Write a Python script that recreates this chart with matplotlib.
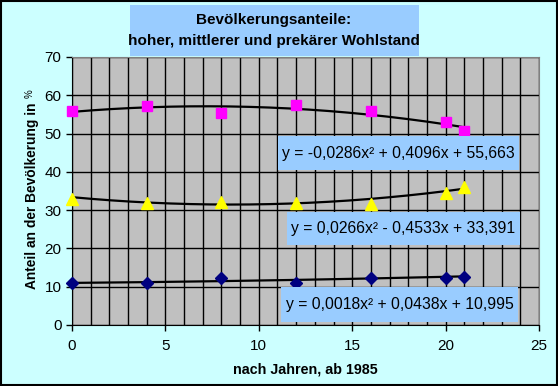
import numpy as np
import matplotlib
matplotlib.use("Agg")
import matplotlib.pyplot as plt
from matplotlib.patches import Rectangle

plt.rcParams['font.family'] = ['Liberation Sans', 'DejaVu Sans']

# ---- data ----
jahre = [0, 4, 8, 12, 16, 20, 21]
hoher = [55.9, 57.3, 55.4, 57.4, 55.9, 52.9, 50.6]
mittlerer = [32.8, 31.9, 32.2, 31.8, 31.6, 34.5, 36.1]
prekaer = [10.9, 10.9, 12.2, 10.9, 12.2, 12.4, 12.6]

# polynomial trend coefficients as printed in the chart (a, b, c)
coef_hoher = [-0.0286, 0.4096, 55.663]
coef_mittlerer = [0.0266, -0.4533, 33.391]
coef_prekaer = [0.0018, 0.0438, 10.995]

eq_hoher = "y = -0,0286x² + 0,4096x + 55,663"
eq_mittlerer = "y = 0,0266x² - 0,4533x + 33,391"
eq_prekaer = "y = 0,0018x² + 0,0438x + 10,995"

W, H = 558, 386
fig = plt.figure(figsize=(W / 100, H / 100), dpi=100)
fig.patch.set_facecolor('#CCFFFF')

def fx(px):
    return px / W

def fy(py):
    return 1 - py / H

# outer frame
fig.patches.append(Rectangle((fx(1), fy(385)), fx(556), 384 / H, transform=fig.transFigure,
                             fill=False, edgecolor='black', lw=1.5))

ax = fig.add_axes([fx(72), fy(325), fx(539 - 72), (325 - 57) / H])
ax.set_facecolor('#C0C0C0')
ax.set_xlim(0, 25)
ax.set_ylim(0, 70)
ax.set_xticks(range(0, 26, 5))
ax.set_yticks(range(0, 71, 10))
ax.set_xticks(range(0, 26), minor=True)
ax.grid(True, which='both', axis='x', color='black', lw=1)
ax.grid(True, which='major', axis='y', color='black', lw=1)
ax.tick_params(axis='x', which='minor', length=0)
ax.tick_params(axis='both', which='major', length=4, direction='out', labelsize=11, width=1)
ax.tick_params(axis='x', pad=6)
ax.set_axisbelow(True)
for s in ['top', 'right']:
    ax.spines[s].set_color('#808080')
for s in ['left', 'bottom']:
    ax.spines[s].set_color('black')

xs = np.linspace(jahre[0], jahre[-1], 200)
for coef in (coef_hoher, coef_mittlerer, coef_prekaer):
    ax.plot(xs, np.polyval(coef, xs), color='black', lw=1.6, zorder=3)

ax.plot(jahre, hoher, 's', color='#FF00FF', ms=7.5, ls='none', zorder=4, clip_on=False)
ax.plot(jahre, mittlerer, '^', color='#FFFF00', ms=9, ls='none', zorder=4, clip_on=False)
ax.plot(jahre, prekaer, 'D', color='#000080', ms=6, ls='none', zorder=4, clip_on=False)

# equation boxes
boxes = [(278, 136, 519, 170, eq_hoher), (287, 212, 520, 245, eq_mittlerer),
         (281, 287, 518, 322, eq_prekaer)]
for x0, y0, x1, y1, txt in boxes:
    fig.patches.append(Rectangle((fx(x0), fy(y1)), fx(x1 - x0), (y1 - y0) / H,
                                 transform=fig.transFigure, facecolor='#99CCFF',
                                 edgecolor='none', zorder=5))
    fig.text(fx((x0 + x1) / 2), fy((y0 + y1) / 2), txt, ha='center', va='center',
             fontsize=11.3, zorder=6)

# title box
fig.patches.append(Rectangle((fx(130), fy(56)), fx(289), 51 / H, transform=fig.transFigure,
                             facecolor='#99CCFF', edgecolor='none'))
fig.text(fx(274), fy(20), "Bevölkerungsanteile:", ha='center', va='center',
         fontsize=11, fontweight='bold')
fig.text(fx(274), fy(41), "hoher, mittlerer und prekärer Wohlstand", ha='center', va='center',
         fontsize=11, fontweight='bold')

# axis labels
fig.text(fx(305), fy(369), "nach Jahren, ab 1985", ha='center', va='center',
         fontsize=10.3, fontweight='bold')
fig.text(fx(32), fy(289), "Anteil an der Bevölkerung in", rotation=90, ha='center',
         va='bottom', fontsize=9.9, fontweight='bold')
fig.text(fx(30), fy(94), "%", rotation=90, ha='center', va='center', fontsize=7)

fig.savefig('out.png', dpi=100, facecolor=fig.get_facecolor())
